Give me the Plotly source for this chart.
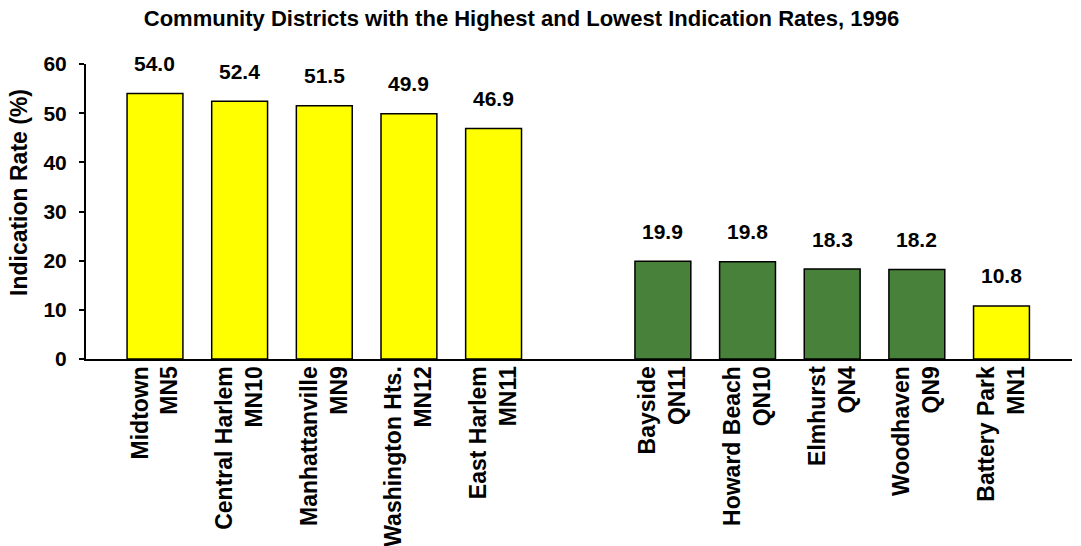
import plotly.graph_objects as go

# Community districts, grouped: highest five, a spacer slot, lowest five
districts = ["Midtown", "Central Harlem", "Manhattanville", "Washington Hts.", "East Harlem",
             "",
             "Bayside", "Howard Beach", "Elmhurst", "Woodhaven", "Battery Park"]
codes = ["MN5", "MN10", "MN9", "MN12", "MN11",
         "",
         "QN11", "QN10", "QN4", "QN9", "MN1"]
rates = [54.0, 52.4, 51.5, 49.9, 46.9,
         None,
         19.9, 19.8, 18.3, 18.2, 10.8]
boroughs = ["MN", "MN", "MN", "MN", "MN", "", "QN", "QN", "QN", "QN", "MN"]

YELLOW = "#FFFF00"
GREEN = "#48823A"
FONT = "Liberation Sans, Arial, sans-serif"

labels = [f"{d}<br>{c}" if d else " " for d, c in zip(districts, codes)]
colors = [YELLOW if b == "MN" else GREEN for b in boroughs]

fig = go.Figure()
fig.add_trace(go.Bar(
    x=labels,
    y=rates,
    marker=dict(color=colors, line=dict(color="black", width=1.5)),
    hoverinfo="x+y",
))

# value labels above each bar
for lab, v in zip(labels, rates):
    if v is None:
        continue
    fig.add_annotation(
        x=lab, y=v, xref="x", yref="y",
        text=f"<b>{v:.1f}</b>", showarrow=False,
        yanchor="middle", yshift=30,
        font=dict(family=FONT, size=21, color="black"),
    )

# y-axis title
fig.add_annotation(
    xref="paper", yref="paper", x=(19 - 86) / 986, y=(359 - 193) / 295,
    text="<b>Indication Rate (%)</b>", textangle=-90, showarrow=False,
    xanchor="center", yanchor="middle",
    font=dict(family=FONT, size=23, color="black"),
)

# small ticks at both ends of the category axis
for xd in (0, 1):
    fig.add_shape(
        type="line", xref="x domain", yref="y",
        x0=xd, x1=xd, y0=0, y1=-6, ysizemode="pixel", yanchor=0,
        line=dict(color="black", width=2),
    )

fig.update_layout(
    width=1081, height=546,
    margin=dict(l=86, r=9, t=64, b=187),
    paper_bgcolor="white", plot_bgcolor="white",
    showlegend=False,
    bargap=0.34,
    title=dict(
        text="<b>Community Districts with the Highest and Lowest Indication Rates, 1996</b>",
        x=521.5 / 1081, xanchor="center", y=1 - 18 / 546, yanchor="middle",
        font=dict(family=FONT, size=22, color="black"),
    ),
    xaxis=dict(
        type="category", range=[-0.815, 10.833],
        showline=True, linecolor="black", linewidth=2,
        ticks="", tickangle=-90, showgrid=False,
        ticklabelstandoff=-4,
        tickfont=dict(family=FONT, size=23, color="black", weight="bold"),
        automargin=False,
    ),
    yaxis=dict(
        range=[0, 60], dtick=10, tick0=0,
        showline=True, linecolor="black", linewidth=2,
        ticks="outside", ticklen=5, tickwidth=2, tickcolor="black",
        ticklabelstandoff=8,
        showgrid=False, zeroline=False,
        tickfont=dict(family=FONT, size=21, color="black", weight="bold"),
        automargin=False,
    ),
)

fig.write_html("out.html")
